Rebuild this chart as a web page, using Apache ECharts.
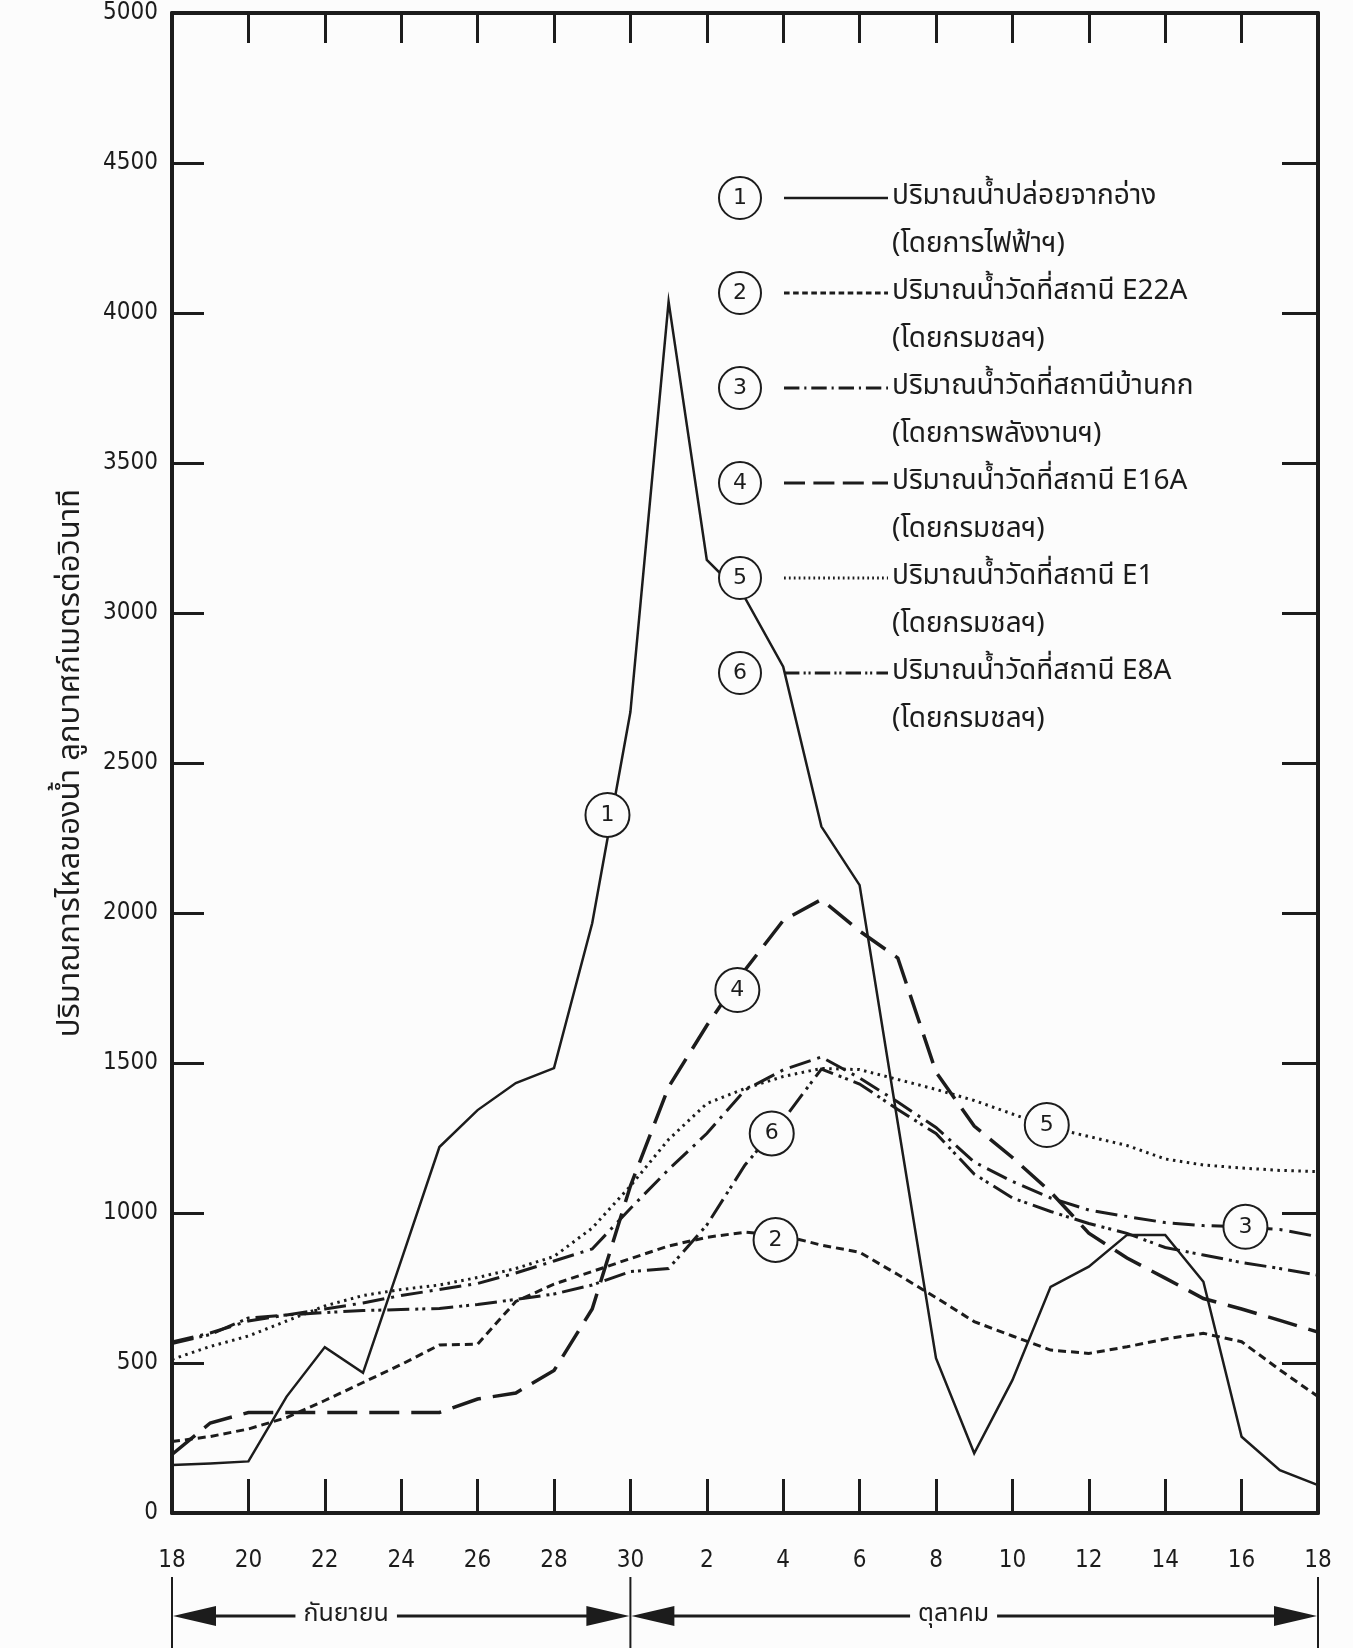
<!DOCTYPE html>
<html>
<head>
<meta charset="utf-8">
<script src="https://cdn.jsdelivr.net/npm/echarts@6/dist/echarts.min.js"></script>
<style>
html,body{margin:0;padding:0;background:#fcfcfc;}
#c{width:1353px;height:1648px;}
</style>
</head>
<body>
<div id="c"></div>
<script>
// ---- categories (day of month, 18 Sep .. 18 Oct) ----
const dayLabels = [18,19,20,21,22,23,24,25,26,27,28,29,30,1,2,3,4,5,6,7,8,9,10,11,12,13,14,15,16,17,18];

// ---- series values (m3/s) ----
const releaseFlow = [160,165,172,388,553,467,842,1220,1343,1433,1483,1966,2670,4038,3177,3050,2821,2288,2093,1300,516,199,443,754,821,927,927,771,254,143,93];
const e22aFlow    = [238,255,280,318,375,435,495,560,563,705,763,805,848,890,919,936,925,893,869,795,718,638,590,543,532,554,580,599,571,477,388];
const banKokFlow  = [570,600,640,660,680,700,725,745,765,800,840,880,1015,1145,1265,1410,1477,1520,1450,1370,1285,1170,1105,1050,1010,988,968,958,954,945,921];
const e16aFlow    = [195,300,335,335,335,335,335,335,380,400,475,680,1090,1420,1625,1810,1975,2045,1940,1850,1470,1290,1185,1070,933,850,783,715,680,642,603];
const e1Flow      = [512,555,590,640,690,725,745,760,785,815,855,950,1090,1245,1365,1415,1455,1482,1478,1445,1412,1375,1330,1285,1255,1225,1180,1160,1150,1142,1138];
const e8aFlow     = [565,595,650,660,668,675,678,682,695,712,730,760,805,815,960,1160,1310,1480,1430,1345,1265,1130,1050,1005,965,932,885,860,835,815,793];

// ---- legend texts ----
const seriesNums  = ['1','2','3','4','5','6'];
const seriesNames = ['ปริมาณน้ำปล่อยจากอ่าง','ปริมาณน้ำวัดที่สถานี E22A','ปริมาณน้ำวัดที่สถานีบ้านกก','ปริมาณน้ำวัดที่สถานี E16A','ปริมาณน้ำวัดที่สถานี E1','ปริมาณน้ำวัดที่สถานี E8A'];
const seriesNotes = ['(โดยการไฟฟ้าฯ)','(โดยกรมชลฯ)','(โดยการพลังงานฯ)','(โดยกรมชลฯ)','(โดยกรมชลฯ)','(โดยกรมชลฯ)'];

// ---- in-plot circled labels (day index, flow) ----
const annotNum  = ['1','4','6','2','5','3'];
const annotDay  = [11.4,14.8,15.7,15.8,22.9,28.1];
const annotFlow = [2327,1743,1265,910,1293,954];

// ---- axis ----
const yTickStep = 500;
const yMax = 5000;
const yAxisTitle = 'ปริมาณการไหลของน้ำ ลูกบาศก์เมตรต่อวินาที';
const monthNames = ['กันยายน','ตุลาคม'];
const monthBounds = [0,12,30];

const INK = '#1c1c1c';
const BG = '#fcfcfc';
const thaiFont = "'Noto Sans Thai','Loma','Garuda','Norasi','Tlwg Typo','Noto Sans','DejaVu Sans',sans-serif";
const numFont = "'Liberation Sans Narrow','DejaVu Sans Condensed','Liberation Sans',sans-serif";

const values = [releaseFlow,e22aFlow,banKokFlow,e16aFlow,e1Flow,e8aFlow];
const styles = [
  {type:'solid', width:2.5},
  {type:[8,5], width:3},
  {type:[22,7,3,7], width:3},
  {type:[30,12], width:3.5},
  {type:[2.5,4.5], width:3},
  {type:[22,6,3,4,3,6], width:3}
];

const chart = echarts.init(document.getElementById('c'), null, {renderer:'canvas'});

const axisLineStyle = {color:INK, width:4};
const tickStyle = {color:INK, width:3};

const option = {
  backgroundColor: BG,
  animation: false,
  grid: {left:172, right:35, top:13, bottom:135},
  xAxis: [
    {type:'value', min:0, max:30, interval:2, position:'bottom',
     axisLine:{show:true, onZero:false, lineStyle:axisLineStyle},
     axisTick:{show:true, inside:true, length:34, lineStyle:tickStyle},
     axisLabel:{margin:36, formatter:v=>String(dayLabels[v]), fontFamily:numFont, fontSize:24, color:INK},
     splitLine:{show:false}},
    {type:'value', min:0, max:30, interval:2, position:'top',
     axisLine:{show:true, onZero:false, lineStyle:axisLineStyle},
     axisTick:{show:true, inside:true, length:30, lineStyle:tickStyle},
     axisLabel:{show:false}, splitLine:{show:false}}
  ],
  yAxis: [
    {type:'value', min:0, max:yMax, interval:yTickStep, position:'left',
     name:yAxisTitle, nameLocation:'middle', nameRotate:90, nameGap:84,
     nameTextStyle:{fontFamily:thaiFont, fontSize:31, color:INK},
     axisLine:{show:true, onZero:false, lineStyle:axisLineStyle},
     axisTick:{show:true, inside:true, length:32, lineStyle:tickStyle},
     axisLabel:{margin:14, formatter:v=>String(v), fontFamily:numFont, fontSize:24, color:INK},
     splitLine:{show:false}},
    {type:'value', min:0, max:yMax, interval:yTickStep, position:'right',
     axisLine:{show:true, onZero:false, lineStyle:axisLineStyle},
     axisTick:{show:true, inside:true, length:36, lineStyle:tickStyle},
     axisLabel:{show:false}, splitLine:{show:false}}
  ],
  series: values.map((arr,k)=>({
    name: seriesNames[k],
    type:'line',
    xAxisIndex:0, yAxisIndex:0,
    data: arr.map((v,i)=>[i,v]),
    showSymbol:false, symbol:'none',
    lineStyle:{color:INK, width:styles[k].width, type:styles[k].type, cap:'butt', join:'miter'},
    z: 3
  })).concat([{
    type:'scatter',
    xAxisIndex:0, yAxisIndex:0,
    data: annotDay.map((d,i)=>[d, annotFlow[i], annotNum[i]]),
    symbol:'circle', symbolSize:44,
    itemStyle:{color:BG, borderColor:INK, borderWidth:2, opacity:1},
    label:{show:true, position:'inside', formatter:p=>p.data[2], fontFamily:"'DejaVu Sans',sans-serif", fontSize:22, color:INK},
    emphasis:{disabled:true},
    z: 10
  }])
};
chart.setOption(option);

// ---- overlay graphics: legend and month brackets ----
const g = [];
const legX = 740, legY0 = 198, legStep = 95;
for (let k=0;k<6;k++){
  const cy = legY0 + k*legStep;
  g.push({type:'line', z:100, shape:{x1:784,y1:cy,x2:888,y2:cy},
          style:{stroke:INK, lineWidth:Math.min(styles[k].width,3), lineDash: styles[k].type==='solid'?null:styles[k].type.map(x=>x*0.7)}});
  g.push({type:'circle', z:100, shape:{cx:legX, cy:cy, r:21}, style:{fill:BG, stroke:INK, lineWidth:2}});
  g.push({type:'text', z:101, x:legX, y:cy, style:{text:seriesNums[k], fill:INK, font:"22px 'DejaVu Sans',sans-serif", align:'center', verticalAlign:'middle'}});
  g.push({type:'text', z:101, x:892, y:cy, style:{text:seriesNames[k], fill:INK, font:"28px "+thaiFont, align:'left', verticalAlign:'middle'}});
  g.push({type:'text', z:101, x:892, y:cy+48, style:{text:seriesNotes[k], fill:INK, font:"28px "+thaiFont, align:'left', verticalAlign:'middle'}});
}
const xs = monthBounds.map(d=>chart.convertToPixel({xAxisIndex:0}, d));
const bracketTop = 1577, arrowY = 1616, H = 1648;
xs.forEach(x=>g.push({type:'line', z:100, shape:{x1:x,y1:bracketTop,x2:x,y2:H}, style:{stroke:INK, lineWidth:2}}));
const labelFrac = [0.38, 0.47];
for (let m=0;m<2;m++){
  const a = xs[m], b = xs[m+1];
  g.push({type:'line', z:100, shape:{x1:a+30,y1:arrowY,x2:b-30,y2:arrowY}, style:{stroke:INK, lineWidth:3}});
  g.push({type:'polygon', z:100, shape:{points:[[a+1,arrowY],[a+44,arrowY-10],[a+44,arrowY+10]]}, style:{fill:INK}});
  g.push({type:'polygon', z:100, shape:{points:[[b-1,arrowY],[b-44,arrowY-10],[b-44,arrowY+10]]}, style:{fill:INK}});
  g.push({type:'text', z:102, x:a+(b-a)*labelFrac[m], y:arrowY, style:{text:monthNames[m], fill:INK, font:"25px "+thaiFont, align:'center', verticalAlign:'middle', backgroundColor:BG, padding:[2,8]}});
}
chart.setOption({graphic:{elements:g}});
</script>
</body>
</html>
